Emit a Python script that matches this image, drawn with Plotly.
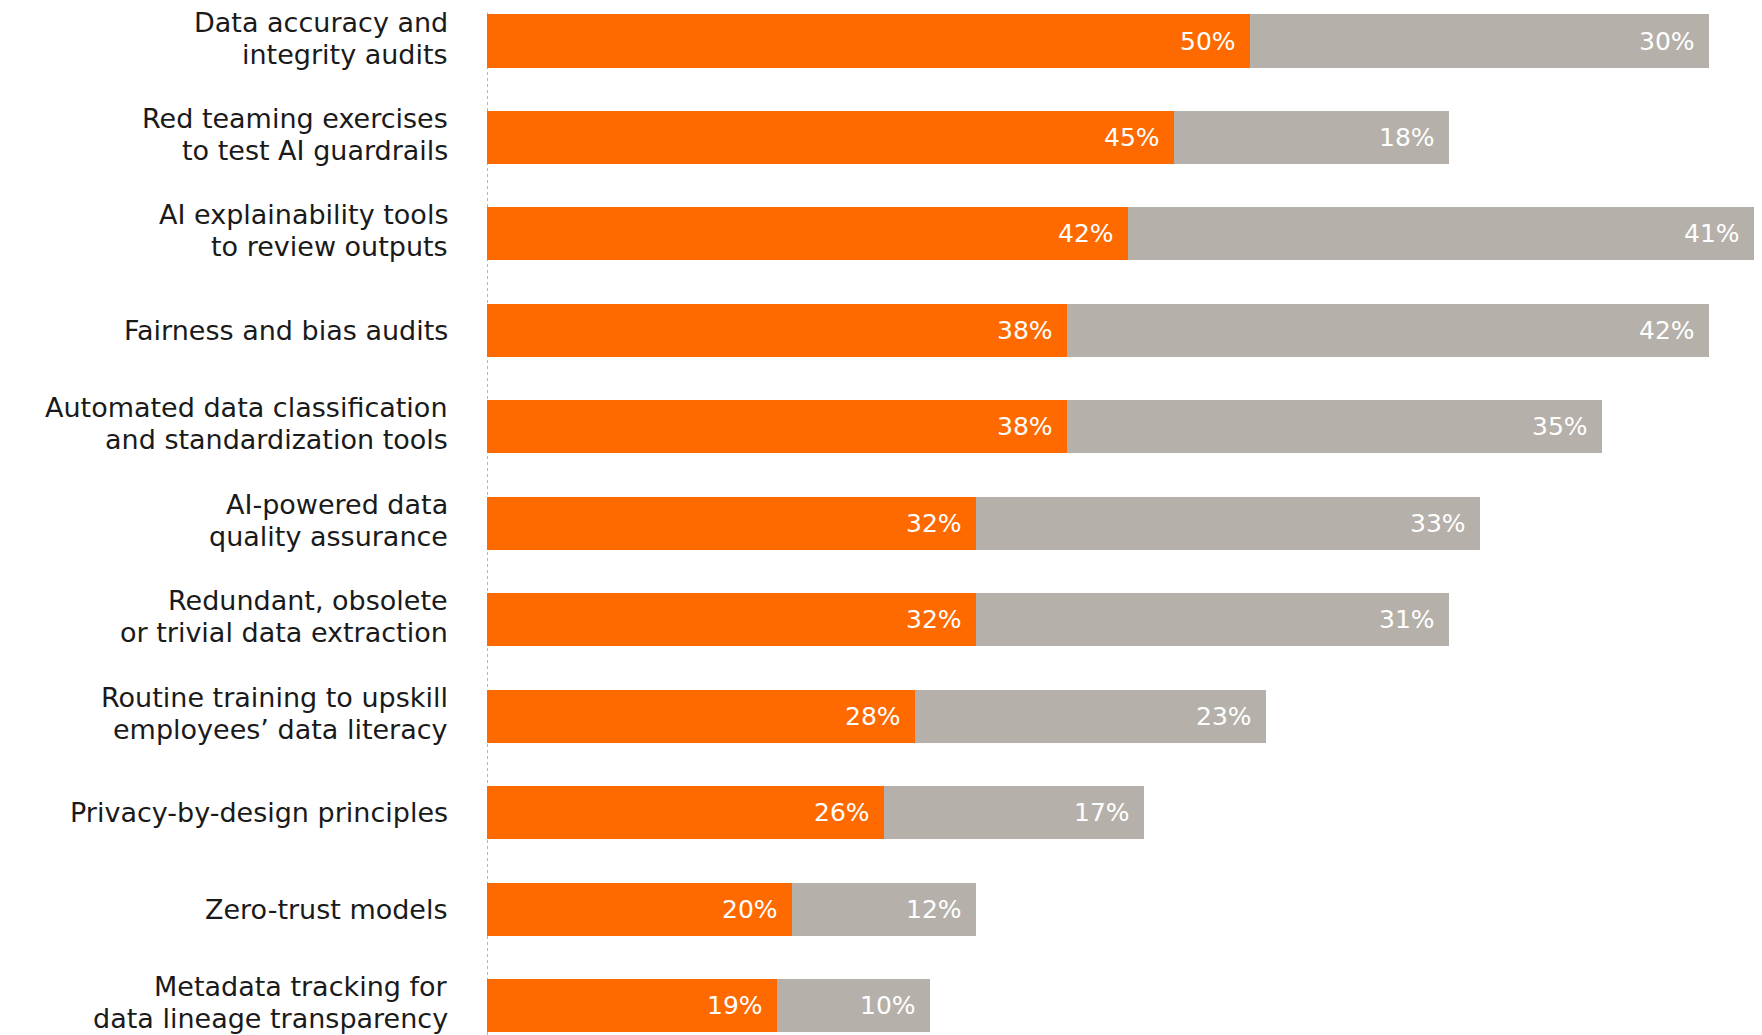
import plotly.graph_objects as go

categories = [
    "Data accuracy and<br>integrity audits",
    "Red teaming exercises<br>to test AI guardrails",
    "AI explainability tools<br>to review outputs",
    "Fairness and bias audits",
    "Automated data classification<br>and standardization tools",
    "AI-powered data<br>quality assurance",
    "Redundant, obsolete<br>or trivial data extraction",
    "Routine training to upskill<br>employees’ data literacy",
    "Privacy-by-design principles",
    "Zero-trust models",
    "Metadata tracking for<br>data lineage transparency",
]
primary = [50, 45, 42, 38, 38, 32, 32, 28, 26, 20, 19]
secondary = [30, 18, 41, 42, 35, 33, 31, 23, 17, 12, 10]

ORANGE = "#FF6A00"
GREY = "#B5B0A9"
FONT = "'DejaVu Sans', sans-serif"
LINE_GAP = 32  # px between lines of a category label

fig = go.Figure()
fig.add_trace(go.Bar(y=categories, x=primary, orientation="h",
                     marker=dict(color=ORANGE, line=dict(width=0)),
                     width=0.55, hoverinfo="skip"))
fig.add_trace(go.Bar(y=categories, x=secondary, orientation="h",
                     marker=dict(color=GREY, line=dict(width=0)),
                     width=0.55, hoverinfo="skip"))

annotations = []
# category labels, one annotation per line for tighter line spacing
for cat in categories:
    lines = cat.split("<br>")
    n = len(lines)
    lift = 3 if n > 1 else 0
    for j, line in enumerate(lines):
        annotations.append(dict(
            x=0, y=cat, xref="x", yref="y", text=line, showarrow=False,
            xanchor="right", yanchor="middle", xshift=-37,
            yshift=((n - 1) / 2 - j) * LINE_GAP + lift,
            font=dict(family=FONT, size=27, color="#1a1a1a")))

# value labels at the inner right end of each segment
for cat, a, b in zip(categories, primary, secondary):
    for end, val in ((a, a), (a + b, b)):
        annotations.append(dict(
            x=end, y=cat, xref="x", yref="y", text=f"{val}%",
            showarrow=False, xanchor="right", yanchor="middle", xshift=-12,
            font=dict(family=FONT, size=25, color="white")))

fig.update_layout(
    barmode="stack",
    width=1762, height=1035,
    margin=dict(l=487, r=0, t=0, b=0),
    paper_bgcolor="white", plot_bgcolor="white",
    showlegend=False,
    annotations=annotations,
    shapes=[dict(type="line", xref="x", yref="paper", x0=0, x1=0,
                 y0=0.0, y1=0.988,
                 line=dict(color="#9a9a9a", width=1.5, dash="dot"),
                 layer="below")],
    xaxis=dict(range=[0, 83.5], visible=False, fixedrange=True),
    yaxis=dict(range=[10.304, -0.425], showgrid=False, zeroline=False,
               showline=False, ticks="", showticklabels=False,
               fixedrange=True),
)

fig.write_html("out.html")
